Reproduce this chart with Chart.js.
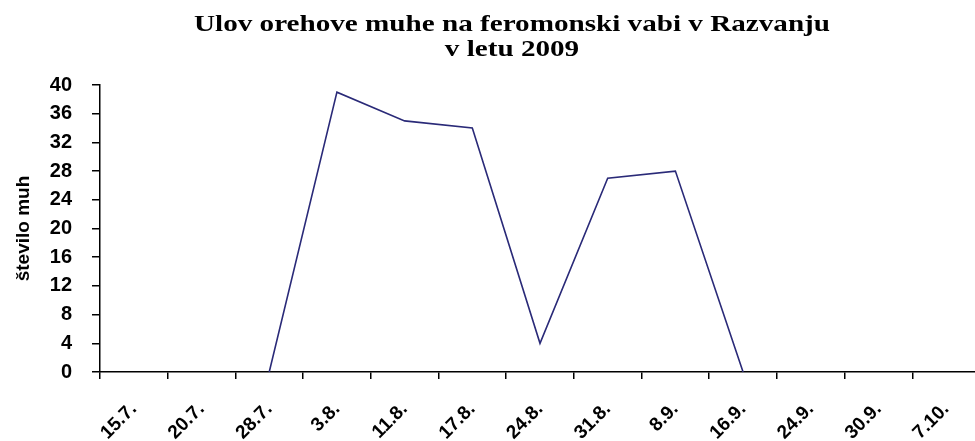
<!DOCTYPE html>
<html lang="sl">
<head>
    <meta charset="UTF-8">
    <title>Ulov orehove muhe 2009</title>
    <script src="https://cdn.jsdelivr.net/npm/chart.js"></script>
    <style>
        body {
            margin: 0;
            background: #fff;
            overflow: hidden;
        }
        #wrap {
            position: absolute;
            left: 0;
            top: 0;
        }
    </style>
</head>
<body>
    <div id="wrap">
        <canvas id="ulovChart" width="990" height="441"></canvas>
    </div>

    <script>
        const titleLines = ["Ulov orehove muhe na feromonski vabi v Razvanju", "v letu 2009"];
        const dates = ["15.7.", "20.7.", "28.7.", "3.8.", "11.8.", "17.8.", "24.8.", "31.8.", "8.9.", "16.9.", "24.9.", "30.9.", "7.10."];
        // no catch recorded before 28.7. and after 16.9.
        const catchCount = [null, null, 0, 39, 35, 34, 4, 27, 28, 0, null, null, null];
        const yMin = 0;
        const yMax = 40;
        const yStep = 4;

        // wide serif heading, drawn straight on the canvas
        const headingPlugin = {
            id: 'heading',
            afterDraw(chart) {
                let ctx = chart.ctx;
                ctx.save();
                ctx.font = 'bold 24px "Liberation Serif"';
                ctx.fillStyle = '#000';
                ctx.textAlign = 'center';
                ctx.textBaseline = 'alphabetic';
                let w = ctx.measureText(titleLines[0]).width;
                ctx.translate(512, 0);
                ctx.scale(636 / w, 1);
                ctx.fillText(titleLines[0], 0, 31);
                ctx.fillText(titleLines[1], 0, 56);
                ctx.restore();
            }
        };

        let ctx = document.getElementById('ulovChart').getContext('2d');
        let ulovChart = new Chart(ctx, {
            type: 'line',
            data: {
                labels: dates,
                datasets: [{
                    label: 'število muh',
                    data: catchCount,
                    borderColor: '#2a2a78',
                    borderWidth: 1.6,
                    pointRadius: 0,
                    tension: 0,
                    spanGaps: false,
                    fill: false
                }]
            },
            options: {
                responsive: false,
                animation: false,
                devicePixelRatio: 1,
                layout: {
                    padding: { top: 85, right: 10, left: 0, bottom: 0 }
                },
                plugins: {
                    legend: { display: false },
                    tooltip: { enabled: false }
                },
                scales: {
                    x: {
                        offset: true,
                        grid: {
                            offset: true,
                            drawOnChartArea: false,
                            tickLength: 7,
                            color: '#000',
                            lineWidth: 1.5
                        },
                        border: { color: '#000', width: 1.5 },
                        ticks: {
                            color: '#000',
                            font: { family: 'Liberation Sans', size: 19, weight: 'bold' },
                            minRotation: 45,
                            maxRotation: 45,
                            autoSkip: false,
                            padding: 19
                        },
                        afterFit(scale) { scale.height = 69; }
                    },
                    y: {
                        min: yMin,
                        max: yMax,
                        grid: {
                            drawOnChartArea: false,
                            tickLength: 8,
                            color: '#000',
                            lineWidth: 1.5
                        },
                        border: { color: '#000', width: 1.5 },
                        ticks: {
                            stepSize: yStep,
                            color: '#000',
                            font: { family: 'Liberation Sans', size: 20, weight: 'bold' },
                            padding: 20
                        },
                        title: {
                            display: true,
                            text: 'število muh',
                            color: '#000',
                            font: { family: 'Liberation Sans', size: 19, weight: 'bold' },
                            padding: { top: 12, bottom: 0 }
                        },
                        afterFit(scale) { scale.width = 100; }
                    }
                }
            },
            plugins: [headingPlugin]
        });
    </script>
</body>
</html>
